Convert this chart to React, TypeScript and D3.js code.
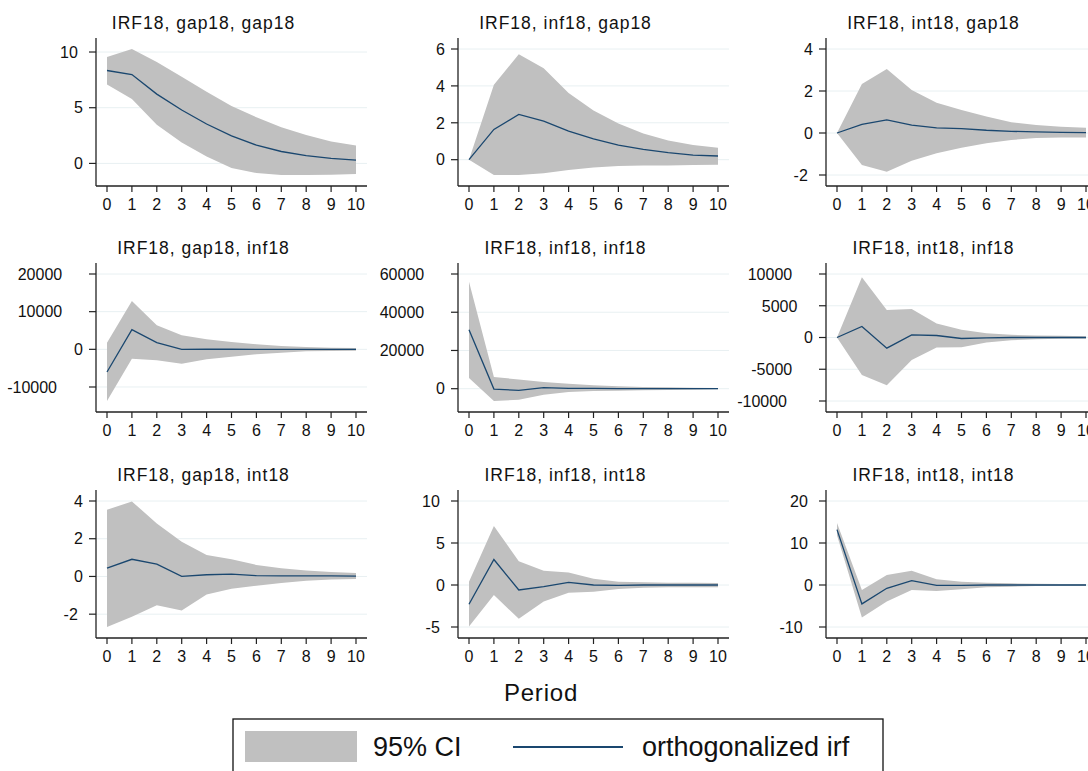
import React from "react";
import * as d3 from "d3";

// ---------- data ----------
const periods = [0, 1, 2, 3, 4, 5, 6, 7, 8, 9, 10];

const impulses = ["gap18", "inf18", "int18"];
const responses = ["gap18", "inf18", "int18"];

// response gap18
const gapGapIrf = [8.34, 7.98, 6.22, 4.79, 3.54, 2.47, 1.64, 1.07, 0.69, 0.45, 0.3];
const gapGapLo = [7.09, 5.78, 3.46, 1.88, 0.63, -0.41, -0.86, -1.04, -1.04, -1.01, -0.95];
const gapGapHi = [9.55, 10.27, 9.11, 7.77, 6.43, 5.15, 4.14, 3.25, 2.54, 1.96, 1.61];
const gapGapTicks = [0, 5, 10];

const infGapIrf = [0, 1.64, 2.45, 2.09, 1.55, 1.13, 0.79, 0.56, 0.38, 0.25, 0.2];
const infGapLo = [0, -0.83, -0.83, -0.74, -0.56, -0.43, -0.34, -0.32, -0.31, -0.29, -0.27];
const infGapHi = [0, 4.06, 5.72, 4.96, 3.62, 2.66, 1.96, 1.42, 1.04, 0.79, 0.65];
const infGapTicks = [0, 2, 4, 6];

const intGapIrf = [0, 0.41, 0.62, 0.37, 0.24, 0.21, 0.13, 0.08, 0.05, 0.03, 0.02];
const intGapLo = [0, -1.52, -1.84, -1.32, -0.97, -0.7, -0.49, -0.33, -0.24, -0.21, -0.21];
const intGapHi = [0, 2.33, 3.05, 2.05, 1.44, 1.1, 0.78, 0.51, 0.38, 0.3, 0.25];
const intGapTicks = [-2, 0, 2, 4];

// response inf18
const gapInfIrf = [-6018, 5221, 1770, 0, 20, 20, 10, 10, 0, 0, 0];
const gapInfLo = [-13717, -2478, -2920, -3805, -2655, -1947, -1327, -885, -531, -442, -354];
const gapInfHi = [1770, 12832, 6372, 3717, 2655, 1947, 1327, 885, 620, 442, 354];
const gapInfTicks = [-10000, 0, 10000, 20000];

const infInfIrf = [30783, -200, -870, 522, 174, 174, 0, 0, 0, 0, 0];
const infInfLo = [5565, -6435, -5739, -3130, -1739, -1217, -1043, -870, -696, -522, -348];
const infInfHi = [56000, 6087, 4870, 3478, 2609, 1739, 1217, 870, 696, 522, 348];
const infInfTicks = [0, 20000, 40000, 60000];

const intInfIrf = [0, 1737, -1684, 421, 316, -158, -53, 0, 0, 0, 0];
const intInfLo = [0, -5895, -7526, -3526, -1579, -1526, -789, -421, -263, -211, -211];
const intInfHi = [0, 9474, 4316, 4474, 2211, 1211, 684, 421, 316, 263, 211];
const intInfTicks = [-10000, -5000, 0, 5000, 10000];

// response int18
const gapIntIrf = [0.44, 0.91, 0.65, 0, 0.09, 0.12, 0.04, 0.03, 0.03, 0.03, 0.02];
const gapIntLo = [-2.68, -2.14, -1.53, -1.81, -0.96, -0.65, -0.49, -0.35, -0.23, -0.16, -0.14];
const gapIntHi = [3.54, 3.98, 2.81, 1.84, 1.14, 0.91, 0.61, 0.44, 0.32, 0.23, 0.18];
const gapIntTicks = [-2, 0, 2, 4];

const infIntIrf = [-2.29, 3.04, -0.59, -0.2, 0.32, 0, -0.04, 0, 0, 0, 0];
const infIntLo = [-4.93, -1.18, -4.03, -1.97, -0.91, -0.79, -0.47, -0.32, -0.28, -0.28, -0.28];
const infIntHi = [0.39, 7.03, 2.84, 1.7, 1.5, 0.75, 0.39, 0.32, 0.28, 0.28, 0.24];
const infIntTicks = [-5, 0, 5, 10];

const intIntIrf = [13.18, -4.5, -0.79, 1.03, -0.08, -0.08, 0, 0, 0, 0, 0];
const intIntLo = [11.84, -7.73, -3.95, -1.18, -1.42, -1.03, -0.55, -0.39, -0.24, -0.24, -0.24];
const intIntHi = [14.76, -1.18, 2.37, 3.39, 1.34, 0.79, 0.55, 0.39, 0.32, 0.24, 0.24];
const intIntTicks = [-10, 0, 10, 20];

const legendLabels = ["95% CI", "orthogonalized irf"];
const xAxisTitle = "Period";

// panels table (row = response, col = impulse)
const panels = [
  [gapGapIrf, gapGapLo, gapGapHi, gapGapTicks],
  [infGapIrf, infGapLo, infGapHi, infGapTicks],
  [intGapIrf, intGapLo, intGapHi, intGapTicks],
  [gapInfIrf, gapInfLo, gapInfHi, gapInfTicks],
  [infInfIrf, infInfLo, infInfHi, infInfTicks],
  [intInfIrf, intInfLo, intInfHi, intInfTicks],
  [gapIntIrf, gapIntLo, gapIntHi, gapIntTicks],
  [infIntIrf, infIntLo, infIntHi, infIntTicks],
  [intIntIrf, intIntLo, intIntHi, intIntTicks],
].map(([irf, lo, hi, ticks], i) => ({
  row: Math.floor(i / 3),
  col: i % 3,
  title: `IRF18, ${impulses[i % 3]}, ${responses[Math.floor(i / 3)]}`,
  irf: irf as number[],
  lo: lo as number[],
  hi: hi as number[],
  ticks: ticks as number[],
}));

// ---------- layout ----------
const W = 1088;
const H = 771;
const colX = [96, 458, 826];
const rowTop = [38, 263, 490];
const rowBottom = [186, 412, 638];
const plotW = 271;
const pad = 11;
const FONT = "'Liberation Sans', Arial, Helvetica, sans-serif";
const BAND = "#c0c0c0";
const NAVY = "#1a476f";
const GRID = "#e8f0f2";
const AXIS = "#222";

function Panel({ p }: { p: (typeof panels)[number] }) {
  const x0 = colX[p.col];
  const top = rowTop[p.row];
  const bottom = rowBottom[p.row];
  const x = d3
    .scaleLinear()
    .domain([periods[0], periods[periods.length - 1]])
    .range([x0 + pad, x0 + plotW - pad]);
  const ymin = Math.min(d3.min(p.lo) as number, d3.min(p.ticks) as number, d3.min(p.irf) as number);
  const ymax = Math.max(d3.max(p.hi) as number, d3.max(p.ticks) as number, d3.max(p.irf) as number);
  const y = d3.scaleLinear().domain([ymin, ymax]).range([bottom - pad, top + pad]);

  const area = d3
    .area<number>()
    .x((_, i) => x(periods[i]))
    .y0((_, i) => y(p.lo[i]))
    .y1((_, i) => y(p.hi[i]));
  const line = d3
    .line<number>()
    .x((_, i) => x(periods[i]))
    .y((d) => y(d));

  return (
    <g>
      <text
        x={x0 + 107.5}
        y={top - 9}
        textAnchor="middle"
        fontSize={17.5}
        letterSpacing={1}
        fill="#111"
      >
        {p.title}
      </text>
      {p.ticks.map((t) => (
        <line
          key={"g" + t}
          x1={x0}
          x2={x0 + plotW}
          y1={y(t)}
          y2={y(t)}
          stroke={GRID}
          strokeWidth={1}
        />
      ))}
      <path d={area(p.lo) || ""} fill={BAND} stroke="none" />
      <path d={line(p.irf) || ""} fill="none" stroke={NAVY} strokeWidth={1.3} />
      <line x1={x0} x2={x0} y1={top} y2={bottom} stroke={AXIS} strokeWidth={1.3} />
      <line x1={x0} x2={x0 + plotW} y1={bottom} y2={bottom} stroke={AXIS} strokeWidth={1.3} />
      {p.ticks.map((t) => {
        const lab = String(t);
        return (
          <g key={"y" + t}>
            <line x1={x0 - 7} x2={x0} y1={y(t)} y2={y(t)} stroke={AXIS} strokeWidth={1.2} />
            <text
              x={x0 - 13 - 5.2 * (lab.length - 1)}
              y={y(t)}
              dy="0.36em"
              textAnchor="end"
              fontSize={16}
              fill="#111"
            >
              {lab}
            </text>
          </g>
        );
      })}
      {periods.map((t) => (
        <g key={"x" + t}>
          <line x1={x(t)} x2={x(t)} y1={bottom} y2={bottom + 6} stroke={AXIS} strokeWidth={1.2} />
          <text x={x(t)} y={bottom + 24} textAnchor="middle" fontSize={16} fill="#111">
            {t}
          </text>
        </g>
      ))}
    </g>
  );
}

export default function App() {
  return (
    <svg
      width={W}
      height={H}
      style={{ position: "absolute", left: 0, top: 0, background: "#fff" }}
      fontFamily={FONT}
    >
      <rect x={0} y={0} width={W} height={H} fill="#fff" />
      {panels.map((p, i) => (
        <Panel key={i} p={p} />
      ))}
      <text x={541} y={701} textAnchor="middle" fontSize={24} letterSpacing={0.8} fill="#111">
        {xAxisTitle}
      </text>
      <rect x={233} y={719} width={650} height={80} fill="#fff" stroke="#111" strokeWidth={1.3} />
      <rect x={245} y={731} width={112} height={31} fill={BAND} />
      <text x={373} y={756} fontSize={27} fill="#111">
        {legendLabels[0]}
      </text>
      <line x1={513} x2={623} y1={747} y2={747} stroke={NAVY} strokeWidth={2} />
      <text x={642} y={756} fontSize={27} fill="#111">
        {legendLabels[1]}
      </text>
    </svg>
  );
}
